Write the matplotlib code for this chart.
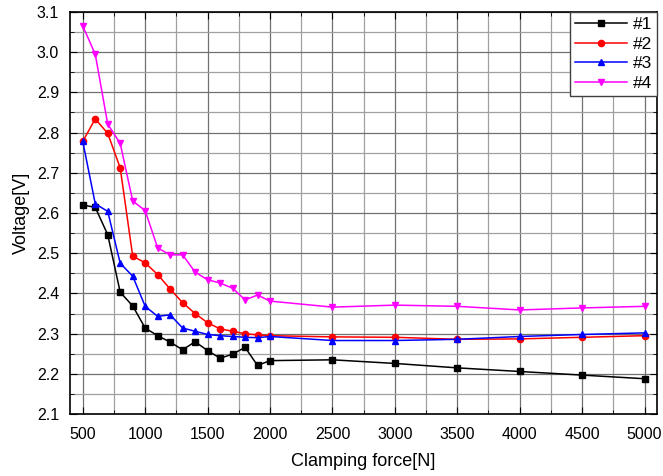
import matplotlib
matplotlib.use('Agg')
import matplotlib.pyplot as plt
from matplotlib.ticker import MultipleLocator

plt.rcParams['font.family'] = ['Liberation Sans', 'DejaVu Sans']

# clamping force [N]
force = [500, 600, 700, 800, 900, 1000, 1100, 1200, 1300, 1400, 1500,
         1600, 1700, 1800, 1900, 2000, 2500, 3000, 3500, 4000, 4500, 5000]

# voltage [V] of each sample
v1 = [2.620, 2.614, 2.546, 2.403, 2.369, 2.314, 2.295, 2.279, 2.260, 2.280, 2.258,
      2.239, 2.249, 2.266, 2.221, 2.233, 2.235, 2.226, 2.215, 2.206, 2.197, 2.188]
v2 = [2.778, 2.834, 2.798, 2.712, 2.493, 2.476, 2.447, 2.411, 2.377, 2.350, 2.327,
      2.312, 2.306, 2.300, 2.297, 2.295, 2.292, 2.291, 2.286, 2.287, 2.291, 2.295]
v3 = [2.778, 2.623, 2.604, 2.475, 2.443, 2.368, 2.343, 2.347, 2.314, 2.306, 2.298,
      2.295, 2.293, 2.291, 2.290, 2.293, 2.283, 2.283, 2.286, 2.293, 2.298, 2.302]
v4 = [3.065, 2.995, 2.821, 2.773, 2.630, 2.606, 2.513, 2.496, 2.496, 2.453, 2.434,
      2.426, 2.413, 2.384, 2.396, 2.381, 2.366, 2.371, 2.368, 2.359, 2.364, 2.368]

series = [('#1', v1, 'black', 's'),
          ('#2', v2, '#ff0000', 'o'),
          ('#3', v3, '#0000ff', '^'),
          ('#4', v4, '#ff00ff', 'v')]

fig = plt.figure(figsize=(6.63, 4.76), dpi=100)
ax = fig.add_axes([0.106, 0.130, 0.885, 0.845])

for name, v, c, m in series:
    ax.plot(force, v, color=c, marker=m, markersize=4.5, linewidth=1.1, label=name)

ax.set_xlim(400, 5100)
ax.set_ylim(2.1, 3.1)
ax.xaxis.set_major_locator(MultipleLocator(500))
ax.xaxis.set_minor_locator(MultipleLocator(250))
ax.yaxis.set_major_locator(MultipleLocator(0.1))
ax.yaxis.set_minor_locator(MultipleLocator(0.05))

ax.grid(which='major', color='#707070', linewidth=0.9)
ax.grid(which='minor', color='#a0a0a0', linewidth=0.9)
ax.set_axisbelow(True)

ax.tick_params(which='both', direction='in', top=True, right=True, labelsize=11.5)
ax.tick_params(which='major', length=5)
ax.tick_params(which='minor', length=3)
ax.tick_params(axis='x', which='major', pad=9)
ax.tick_params(axis='y', which='major', pad=8)
for s in ax.spines.values():
    s.set_linewidth(1.2)

ax.set_xlabel('Clamping force[N]', fontsize=13, labelpad=8)
ax.set_ylabel('Voltage[V]', fontsize=13, labelpad=5)

leg = ax.legend(loc='upper right', fontsize=12.5, frameon=True, fancybox=False,
                borderaxespad=0, handlelength=3, handletextpad=0.3,
                labelspacing=0.25, borderpad=0.3)
leg.get_frame().set_edgecolor('#404040')
leg.get_frame().set_alpha(1)

fig.savefig('out.png', dpi=100)
